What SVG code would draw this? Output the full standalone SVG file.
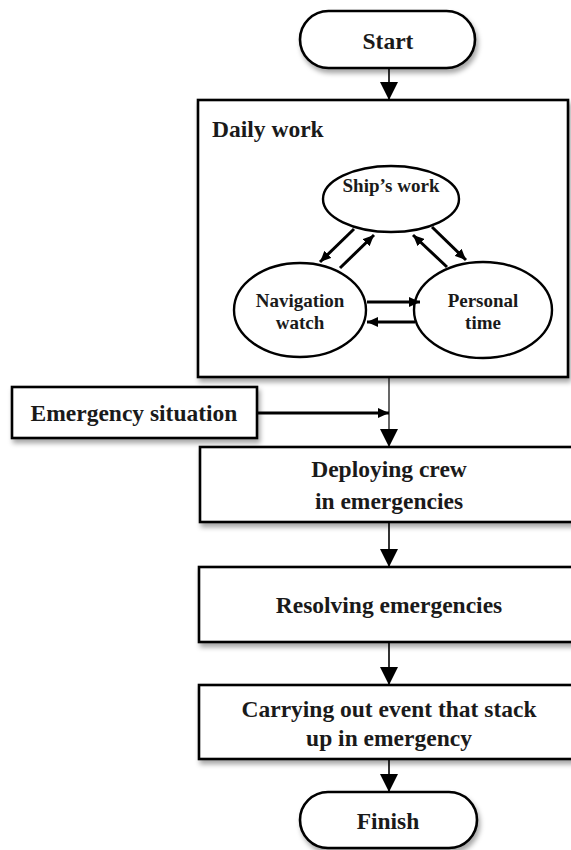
<svg xmlns="http://www.w3.org/2000/svg" width="571" height="850" viewBox="0 0 571 850">
  <defs>
    <filter id="shadow" x="-10%" y="-10%" width="125%" height="140%">
      <feDropShadow dx="2" dy="4" stdDeviation="2.5" flood-color="#000" flood-opacity="0.35"/>
    </filter>
    <marker id="headBig" markerUnits="userSpaceOnUse" markerWidth="18" markerHeight="18" viewBox="0 0 18 18" refX="18" refY="9" orient="auto">
      <path d="M0,0 L18,9 L0,18 Z" fill="#000"/>
    </marker>
    <marker id="headSmall" markerUnits="userSpaceOnUse" markerWidth="11" markerHeight="10" viewBox="0 0 11 10" refX="11" refY="5" orient="auto">
      <path d="M0,0 L11,5 L0,10 Z" fill="#000"/>
    </marker>
  </defs>
  <style>
    .box { fill: #fff; stroke: #000; stroke-width: 2.6; filter: url(#shadow); }
    .ell { fill: #fff; stroke: #000; stroke-width: 2.4; }
    text { font-family: 'Liberation Serif', 'DejaVu Serif', serif; font-weight: bold; fill: #1a1a1a; text-anchor: middle; }
    .big { font-size: 23.5px; }
    .mid { font-size: 19px; }
    .flow { fill: none; stroke: #000; stroke-width: 1.6; marker-end: url(#headBig); }
    .thick { fill: none; stroke: #000; stroke-width: 3; marker-end: url(#headSmall); }
  </style>

  <rect width="571" height="850" fill="#fff"/>

  <!-- main flow and loop connectors -->
  <g id="connectors">
    <line class="flow" x1="389" y1="68" x2="389" y2="100"/>
    <line class="flow" x1="389" y1="377" x2="389" y2="447" style="stroke-width:1.2"/>
    <line class="thick" x1="257" y1="413" x2="389" y2="413"/>
    <line class="flow" x1="389" y1="522" x2="389" y2="567"/>
    <line class="flow" x1="389" y1="642" x2="389" y2="685"/>
    <line class="flow" x1="389" y1="759" x2="389" y2="792"/>
  </g>

  <g id="start">
    <rect class="box" x="300" y="11" width="175" height="57" rx="28.5"/>
    <text class="big" x="388" y="49" font-family="Liberation Serif, serif">Start</text>
  </g>

  <g id="daily-work">
    <rect class="box" x="198" y="100" width="370" height="277"/>
    <text class="big" x="212" y="137" style="text-anchor:start">Daily work</text>

    <g id="ships-work">
      <ellipse class="ell" cx="391" cy="199" rx="68" ry="33"/>
      <text class="mid" x="391" y="192">Ship’s work</text>
    </g>
    <g id="navigation-watch">
      <ellipse class="ell" cx="300" cy="310" rx="66" ry="47"/>
      <text class="mid" x="300" y="307">Navigation</text>
      <text class="mid" x="300" y="329">watch</text>
    </g>
    <g id="personal-time">
      <ellipse class="ell" cx="483" cy="310" rx="69" ry="48"/>
      <text class="mid" x="483" y="307">Personal</text>
      <text class="mid" x="483" y="329">time</text>
    </g>

    <!-- transitions between the daily activities -->
    <g id="cycle-connectors">
      <line class="thick" x1="354" y1="229" x2="320" y2="262"/>
      <line class="thick" x1="340" y1="268" x2="374" y2="235"/>
      <line class="thick" x1="432" y1="227" x2="466" y2="260"/>
      <line class="thick" x1="447" y1="267" x2="413" y2="235"/>
      <line class="thick" x1="367" y1="302" x2="420" y2="302"/>
      <line class="thick" x1="415" y1="322" x2="367" y2="322"/>
    </g>
  </g>

  <g id="emergency-situation">
    <rect class="box" x="12" y="387" width="245" height="51"/>
    <text class="big" x="134" y="421">Emergency situation</text>
  </g>

  <g id="deploying-crew">
    <rect class="box" x="200" y="447" width="380" height="75"/>
    <text class="big" x="389" y="477">Deploying crew</text>
    <text class="big" x="389" y="509">in emergencies</text>
  </g>

  <g id="resolving">
    <rect class="box" x="199" y="567" width="381" height="75"/>
    <text class="big" x="389" y="613">Resolving emergencies</text>
  </g>

  <g id="carrying-out">
    <rect class="box" x="199" y="685" width="381" height="74"/>
    <text class="big" x="389" y="717">Carrying out event that stack</text>
    <text class="big" x="389" y="746">up in emergency</text>
  </g>

  <g id="finish">
    <rect class="box" x="300" y="792" width="177" height="56" rx="28"/>
    <text class="big" x="388" y="829">Finish</text>
  </g>
</svg>
